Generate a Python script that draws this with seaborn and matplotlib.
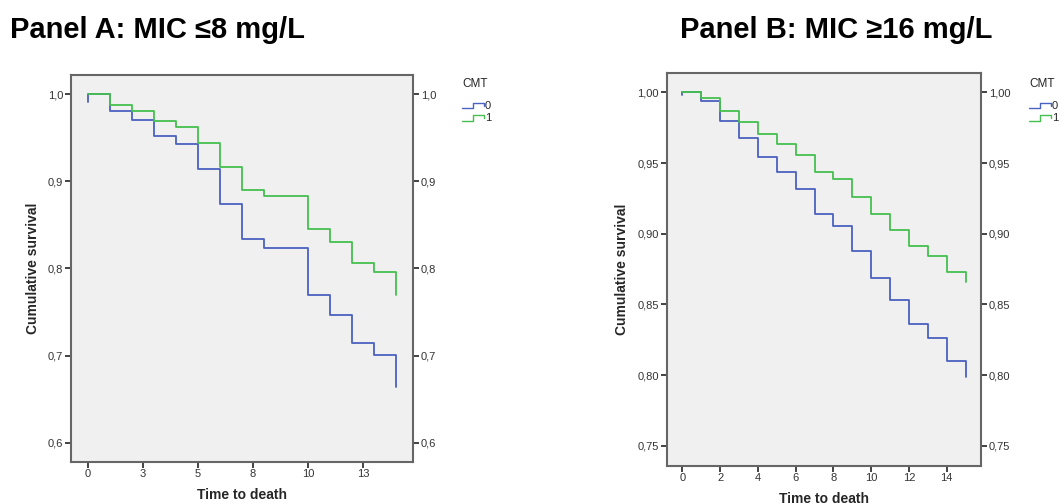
import matplotlib
matplotlib.use("Agg")
import matplotlib.pyplot as plt
import seaborn as sns
import pandas as pd
from matplotlib.legend_handler import HandlerBase
from matplotlib.lines import Line2D

# ---------------- data ----------------
# Panel A (MIC <= 8 mg/L)
a_time = [0, 0, 1, 2, 3, 4, 5, 6, 7, 8, 10, 11, 12, 13, 14]
a_cmt0 = [0.991, 1.000, 0.981, 0.971, 0.952, 0.943, 0.914, 0.874, 0.834, 0.823, 0.769, 0.747, 0.714, 0.701, 0.664]
a_cmt1 = [1.000, 1.000, 0.988, 0.981, 0.969, 0.963, 0.944, 0.917, 0.890, 0.883, 0.845, 0.830, 0.806, 0.796, 0.769]
a_xticks = [0, 2.5, 5, 7.5, 10, 12.5]
a_xticklabels = ["0", "3", "5", "8", "10", "13"]
a_yticks = [0.6, 0.7, 0.8, 0.9, 1.0]
a_yticklabels = ["0,6", "0,7", "0,8", "0,9", "1,0"]

# Panel B (MIC >= 16 mg/L)
b_time = [0, 0, 1, 2, 3, 4, 5, 6, 7, 8, 9, 10, 11, 12, 13, 14, 15]
b_cmt0 = [0.998, 1.000, 0.9936, 0.980, 0.9675, 0.9545, 0.9434, 0.932, 0.914, 0.9057, 0.888, 0.869,
          0.853, 0.836, 0.826, 0.810, 0.799]
b_cmt1 = [1.000, 1.000, 0.9958, 0.987, 0.979, 0.9708, 0.9634, 0.9557, 0.944, 0.9384, 0.926, 0.914,
          0.903, 0.8915, 0.8844, 0.873, 0.866]
b_xticks = [0, 2, 4, 6, 8, 10, 12, 14]
b_xticklabels = ["0", "2", "4", "6", "8", "10", "12", "14"]
b_yticks = [0.75, 0.80, 0.85, 0.90, 0.95, 1.00]
b_yticklabels = ["0,75", "0,80", "0,85", "0,90", "0,95", "1,00"]

groups = ["0", "1"]
titles = ["Panel A: MIC \u22648 mg/L", "Panel B: MIC \u226516 mg/L"]

BLUE = "#4a62c0"
GREEN = "#45c04f"
palette = {"0": BLUE, "1": GREEN}

sns.set_theme(style="white")
plt.rcParams["font.family"] = ["Liberation Sans", "DejaVu Sans"]


def make_df(t, s0, s1):
    return pd.DataFrame({
        "time": list(t) + list(t),
        "surv": list(s0) + list(s1),
        "CMT": ["0"] * len(t) + ["1"] * len(t),
    })


class StepHandler(HandlerBase):
    def create_artists(self, legend, orig_handle, xdescent, ydescent,
                       width, height, fontsize, trans):
        x0, y0 = -xdescent, -ydescent
        xs = [x0, x0 + 0.5 * width, x0 + 0.5 * width, x0 + width, x0 + width]
        ys = [y0 + 0.05 * height, y0 + 0.05 * height, y0 + 0.8 * height,
              y0 + 0.8 * height, y0 + 0.4 * height]
        ln = Line2D(xs, ys, color=orig_handle.get_color(), lw=1.0)
        ln.set_transform(trans)
        return [ln]


fig = plt.figure(figsize=(10.61, 5.04), dpi=100)
axA = fig.add_axes([0.0669, 0.0839, 0.3224, 0.7673])
axB = fig.add_axes([0.6284, 0.0760, 0.2965, 0.7798])

panels = [
    (axA, make_df(a_time, a_cmt0, a_cmt1), (-0.77, 14.77), (0.578, 1.0222),
     a_xticks, a_xticklabels, a_yticks, a_yticklabels, (0.4345, 0.848), 0.0094),
    (axB, make_df(b_time, b_cmt0, b_cmt1), (-0.83, 15.83), (0.736, 1.0139),
     b_xticks, b_xticklabels, b_yticks, b_yticklabels, (0.9690, 0.848), 0.641),
]

for i, (ax, df, xl, yl, xt, xtl, yt, ytl, legpos, titlex) in enumerate(panels):
    ax.set_facecolor("#f0f0f0")
    sns.lineplot(data=df, x="time", y="surv", hue="CMT", palette=palette,
                 estimator=None, sort=False, drawstyle="steps-post",
                 lw=1.3, legend=False, ax=ax)
    ax.set_xlim(*xl)
    ax.set_ylim(*yl)
    ax.set_xticks(xt)
    ax.set_xticklabels(xtl)
    ax.set_yticks(yt)
    ax.set_yticklabels(ytl)
    ax.tick_params(axis="both", which="both", direction="out", length=4, width=1.2,
                   color="#222222", labelsize=8, labelcolor="#333333", pad=1.5,
                   left=True, bottom=True, right=True, labelright=True)
    for sp in ax.spines.values():
        sp.set_color("#666666")
        sp.set_linewidth(1.5)
        sp.set_visible(True)
    ax.set_xlabel("Time to death", fontsize=10, fontweight="bold", labelpad=6)
    ax.set_ylabel("Cumulative survival", fontsize=10, fontweight="bold", labelpad=6)
    fig.text(titlex, 0.940, titles[i], fontsize=21, fontweight="bold",
             ha="left", va="center", color="black")
    handles = [Line2D([], [], color=palette[g]) for g in groups]
    leg = ax.legend(handles, groups, title="CMT", loc="upper left",
                    bbox_to_anchor=legpos, bbox_transform=fig.transFigure,
                    frameon=False, fontsize=8, title_fontsize=8.5,
                    handler_map={Line2D: StepHandler()},
                    handlelength=2.0, handletextpad=0.05, labelspacing=0.2,
                    borderpad=0.1, borderaxespad=0.0)
    leg._legend_box.align = "left"
    leg._legend_box.sep = 8

fig.savefig("out.png", dpi=100)
